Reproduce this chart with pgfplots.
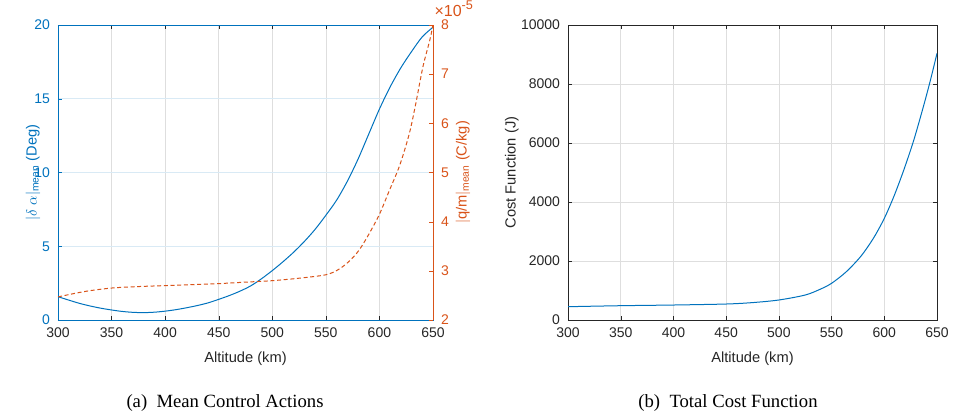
\documentclass[border=0pt]{standalone}
\usepackage{pgfplots}
\pgfplotsset{compat=1.18}
\usepackage{fontspec}
\setmainfont{Liberation Serif}
\setsansfont{Liberation Sans}
\definecolor{mblue}{rgb}{0,0.447,0.741}
\definecolor{morange}{rgb}{0.85,0.325,0.098}
\definecolor{mgray}{rgb}{0.15,0.15,0.15}

\pgfplotstableread{
x y
300 1.58
310 1.35
320 1.13
330 0.95
340 0.80
350 0.68
360 0.58
370 0.52
380 0.50
390 0.53
400 0.60
410 0.70
420 0.83
430 0.98
440 1.16
450 1.40
460 1.66
470 1.96
480 2.32
490 2.80
500 3.35
510 3.95
520 4.60
530 5.33
540 6.15
550 7.10
560 8.12
570 9.40
580 10.90
590 12.60
600 14.30
610 15.80
620 17.10
630 18.20
640 19.20
650 19.85
}\alphadata

\pgfplotstableread{
x y
300 2.47
325 2.58
350 2.65
375 2.68
400 2.70
425 2.72
450 2.74
475 2.77
500 2.80
525 2.85
550 2.92
562 3.03
572 3.20
581 3.42
590 3.74
600 4.15
609 4.62
619 5.15
628 5.80
634 6.41
640.6 7.15
647 7.69
650 8.00
}\qmdata

\pgfplotstableread{
x y
300 451
350 485
400 508
450 542
475 590
500 678
525 847
539 1040
550 1244
564 1638
578 2170
590 2790
600 3446
609 4181
618.5 5085
628 6100
637.5 7288
643.8 8136
650 9040
}\costdata

\begin{document}
\begin{tikzpicture}
\path[use as bounding box] (0,0) rectangle (714.75pt,314.25pt);
\pgfplotsset{
  mat/.style={
    scale only axis,
    width=281.25pt, height=221.25pt,
    xmin=300, xmax=650,
    xtick={300,350,...,650},
    tick align=inside,
    major tick length=3pt,
    /pgf/number format/assume math mode=true,
    /pgf/number format/1000 sep={},
    tick label style={font=\sffamily\fontsize{10.5}{12}\selectfont},
    xticklabel style={yshift=-2.5pt},
    yticklabel style={xshift=-2.5pt},
    label style={font=\sffamily\fontsize{11}{13}\selectfont},
    every axis plot/.append style={line width=0.75pt, smooth, tension=0.5},
  }
}
% (a) left plot, blue axis
\begin{axis}[mat,
  at={(43.5pt,74.25pt)}, anchor=south west,
  ymin=0, ymax=20, ytick={0,5,...,20},
  xtick pos=both, ytick pos=left,
  x axis line style={mgray, line width=0.5pt},
  y axis line style={mblue, line width=0.5pt},
  x tick style={mgray},
  y tick style={mblue},
  xticklabel style={text=mgray},
  yticklabel style={text=mblue},
  xmajorgrids, ymajorgrids,
  x grid style={black!13, line width=0.5pt},
  y grid style={mblue!15, line width=0.5pt},
  xlabel={Altitude (km)},
  xlabel style={text=mgray, at={(axis description cs:0.5,-0.13)}, anchor=center},
  ylabel={$|\delta\ \alpha|_{\mathsf{mean}}$ (Deg)},
  ylabel style={text=mblue, at={(axis description cs:-0.067,0.5)}, anchor=center},
]
\addplot[mblue, no marks] table[x=x,y=y] {\alphadata};
\end{axis}
% (a) right axis, orange
\begin{axis}[mat,
  at={(43.5pt,74.25pt)}, anchor=south west,
  ymin=2, ymax=8, ytick={2,3,...,8},
  axis x line=none, axis y line*=right,
  y axis line style={morange, line width=0.5pt},
  y tick style={morange},
  yticklabel style={text=morange, xshift=5pt},
  ylabel={$|$q/m$|_{\mathsf{mean}}$ (C/kg)},
  ylabel style={text=morange, at={(axis description cs:1.08,0.5)}, anchor=center},
  after end axis/.code={
    \node[anchor=south west, inner sep=0pt, text=morange, font=\sffamily\fontsize{12}{14}\selectfont]
      at (rel axis cs:1,1) [xshift=1pt, yshift=6pt] {×10\raisebox{0.8ex}{\fontsize{9.5}{11}\selectfont -5}};
  },
]
\addplot[morange, no marks, dash pattern=on 3pt off 2pt] table[x=x,y=y] {\qmdata};
\end{axis}
% (b) right plot
\begin{axis}[mat,
  at={(426pt,74.25pt)}, anchor=south west,
  width=276.75pt,
  ymin=0, ymax=10000, ytick={0,2000,...,10000},
  scaled y ticks=false,
  xtick pos=both, ytick pos=both,
  axis line style={mgray, line width=0.5pt},
  tick style={mgray},
  ticklabel style={text=mgray},
  xmajorgrids, ymajorgrids,
  grid style={black!13, line width=0.5pt},
  xlabel={Altitude (km)},
  xlabel style={text=mgray, at={(axis description cs:0.5,-0.13)}, anchor=center},
  ylabel={Cost Function (J)},
  ylabel style={text=mgray, at={(axis description cs:-0.152,0.5)}, anchor=center},
]
\addplot[mblue, no marks] table[x=x,y=y] {\costdata};
\end{axis}
\node[font=\fontsize{14}{16}\selectfont] at (168.75pt,12pt) {(a)\ \ Mean Control Actions};
\node[font=\fontsize{14}{16}\selectfont] at (546pt,12pt) {(b)\ \ Total Cost Function};
\end{tikzpicture}
\end{document}
